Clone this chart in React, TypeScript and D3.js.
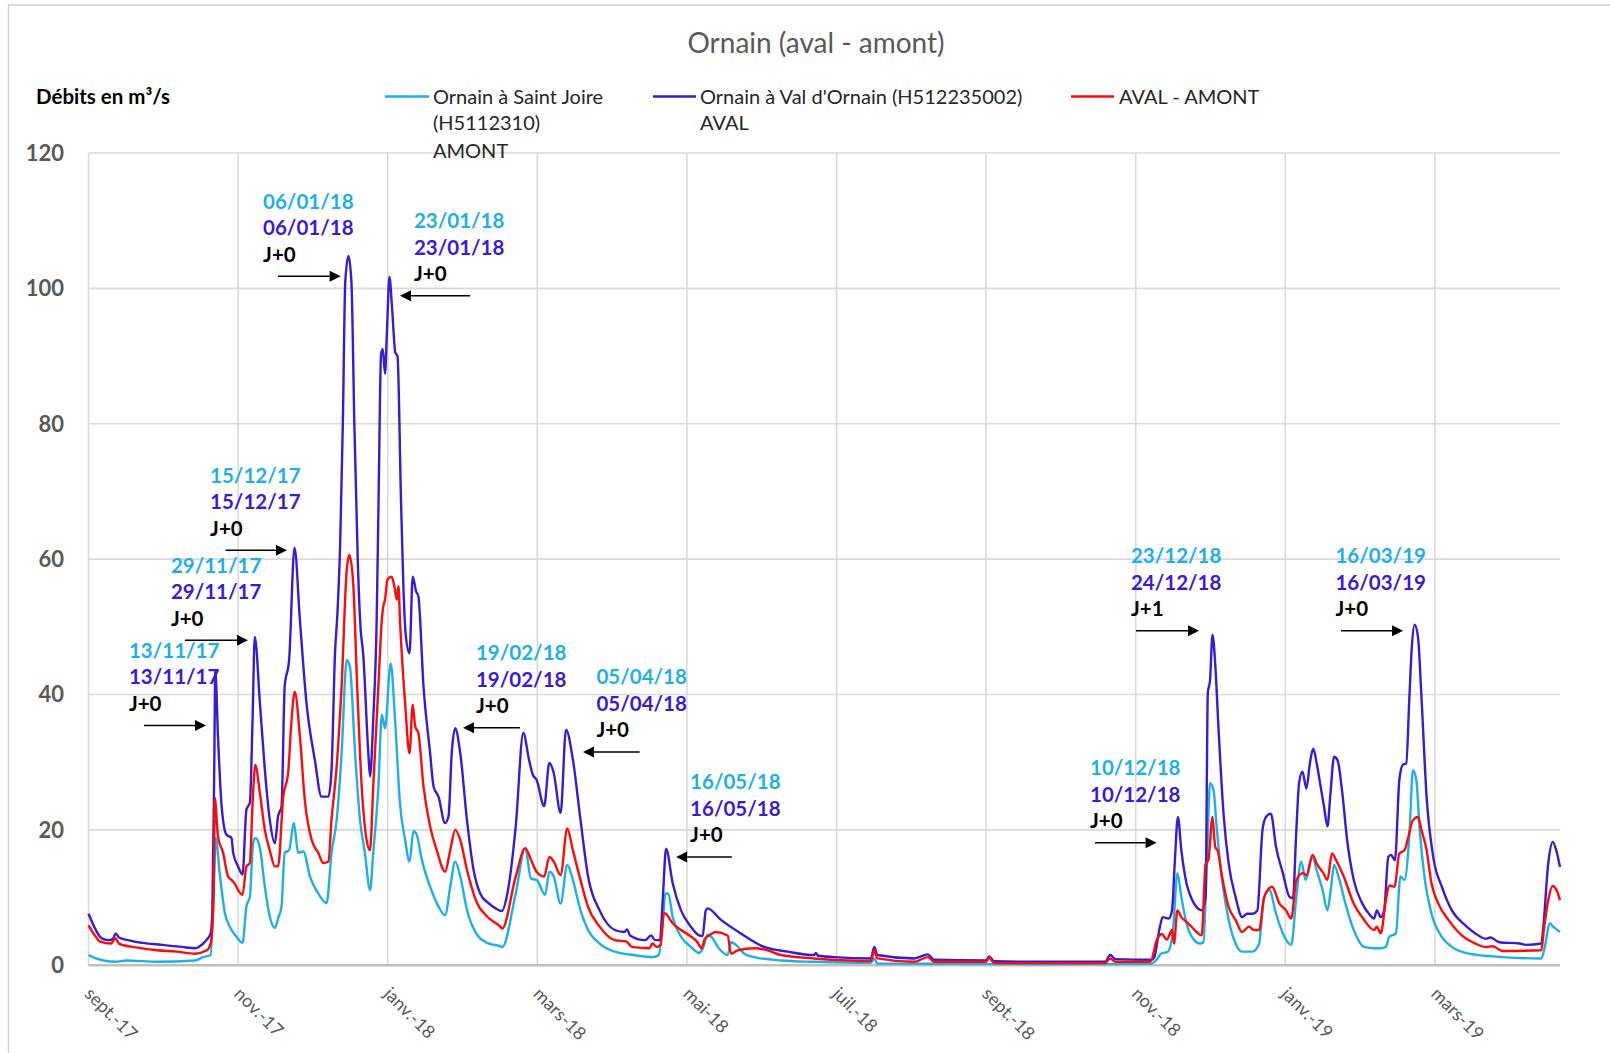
import React from "react";
import * as d3 from "d3";

// Daily flows, sampled at the turning points of each hydrograph.
// Each point: [days since 23/09/2017, discharge in m3/s]
const amont: [number, number][] = [
  [0, 1.5], [3, 1.0], [6.2, 0.7], [10.9, 0.5], [15.6, 0.7], [28, 0.5], [43.5, 0.7], [46.7, 1.2], [49.8, 1.5],
  [51, 10.6], [51.9, 18.8], [53.5, 13.6], [55.6, 7.7], [57.6, 5.7], [60.3, 4.2], [62.8, 3.3], [64.4, 8.7],
  [65.8, 10.1], [67.1, 18], [68.1, 18.8], [69.9, 17.3], [71.9, 11.6], [73.9, 7.2], [76, 5.5], [77.3, 6.9],
  [78.7, 8.7], [80, 16.6], [81.8, 17], [83.7, 21], [85.5, 16.6], [87.6, 16.8], [90.3, 13.1], [93.7, 10.6],
  [97.1, 9.2], [99.1, 16.6], [101.2, 21.5], [103.2, 31.3], [105.3, 45.1], [106.6, 44.1], [108.7, 31.3],
  [110.7, 21.5], [112.7, 16.6], [114.8, 11.1], [116.1, 16.6], [118.2, 26.4], [119.6, 37], [120.9, 35],
  [123.2, 44.6], [125, 36.3], [127, 23.9], [129.1, 18.5], [130.9, 15.3], [132.5, 19.8], [133.8, 19.3],
  [135.9, 15.6], [139.3, 11.6], [142, 9.2], [145.4, 7.4], [147.5, 11.6], [149.5, 15.3], [151.6, 13.1],
  [154.3, 8.2], [158.4, 4.5], [162.5, 3.3], [167.9, 2.8], [168.7, 2.7], [174.2, 10.6], [178.1, 17.3],
  [180.4, 12.8], [182.7, 12.6], [186.2, 10.4], [187.9, 13.8], [189.7, 13.1], [192.5, 9.1], [195.2, 14.8],
  [197.5, 12.6], [200.6, 8.1], [203.7, 5.2], [208.4, 3.2], [214.6, 2.0], [222.4, 1.5], [230.2, 1.2],
  [232.5, 1.5], [234, 5.7], [235.3, 10.6], [236.4, 10.6], [238.2, 7.1], [241.6, 4.2], [245.6, 2.7],
  [249, 1.8], [250.5, 2.5], [252.5, 4.5], [254, 4.2], [257, 2.5], [260.6, 1.5], [262, 3.4], [264, 3.0],
  [267.4, 1.7], [271.4, 1.2], [282.3, 0.7], [295.9, 0.5], [319, 0.35], [320.4, 1.0], [321.7, 0.25],
  [384, 0.15], [433, 0.2], [435.5, 0.8], [437.3, 1.7], [440.1, 2.0], [442.2, 5.2], [444, 13.6],
  [445.6, 10.1], [447.7, 6.2], [450.4, 3.9], [453.2, 3.2], [454.6, 3.4], [456, 15], [457.3, 26.9],
  [458.7, 25.9], [460.1, 20], [462.2, 12.6], [464.9, 6.7], [467.7, 3.2], [470.4, 2.0], [474.6, 2.0],
  [477.3, 3.2], [479.4, 10.1], [481.5, 11.1], [484.2, 7.6], [487, 4.7], [490.4, 3.0], [492.5, 10.1],
  [494.5, 15.3], [496.3, 12.6], [499.1, 16], [500.8, 14], [503.2, 11.1], [505.2, 8.1], [506.5, 11.1],
  [507.9, 14.8], [509.7, 13.1], [512.5, 9.1], [515.9, 5.2], [520.1, 2.7], [524.2, 2.5], [526.9, 2.5],
  [529, 2.7], [530.4, 4.2], [533.1, 4.7], [534.9, 13.1], [536.6, 12.6], [538.7, 20], [540, 28.8],
  [541.4, 27.4], [542.8, 20], [544.9, 12.6], [547.6, 7.6], [551.8, 4.2], [555.9, 2.7], [562.8, 1.7],
  [576.6, 1.2], [592.4, 1.0], [593.8, 2.7], [595.8, 6.2], [597.2, 5.7], [600, 4.9],
];

const aval: [number, number][] = [
  [0, 7.6], [3, 5.2], [4.7, 4.2], [6.5, 3.8], [8.5, 3.7], [10, 3.9], [11, 4.7], [12.4, 4.1], [16, 3.7],
  [22, 3.3], [30, 3.0], [38, 2.7], [43.5, 2.5], [45, 2.7], [48, 3.7], [49.8, 4.7], [50.5, 8], [51.3, 30],
  [51.7, 43.5], [52.8, 33.8], [54.2, 23.9], [56.2, 19.3], [58.3, 18.8], [59, 16.6], [61, 14.6], [62.8, 13.4],
  [64.4, 23], [65.8, 24], [66.9, 36.3], [67.8, 48.5], [69.9, 38.7], [71.9, 28.9], [73.9, 21.5], [76, 18],
  [77.3, 22], [78.7, 23.4], [80, 41.2], [81.8, 45.1], [84, 61.7], [86.2, 51], [88.9, 38.7], [92.3, 30.3],
  [95, 24.9], [97.8, 24.9], [99.1, 28.9], [100.5, 46], [101.5, 52], [102.6, 62], [103.7, 80], [104.7, 101],
  [106, 104.8], [107.2, 101], [108.4, 80], [109.8, 59.7], [110.9, 50], [112, 46], [114.1, 31.3],
  [114.8, 27.9], [116.1, 36.3], [117.5, 51], [118.3, 69.4], [119.3, 90.3], [120, 91], [120.9, 87.4],
  [121.7, 93.7], [122.7, 101.7], [123.8, 97], [125.1, 90.5], [126, 90], [127.4, 69], [128.4, 56],
  [129.3, 49], [130.9, 46.1], [132.2, 57.4], [133.6, 55.2], [134.5, 54.5], [136.6, 41.2], [139.3, 31.3],
  [140.7, 26.4], [142.7, 24.9], [145.4, 21], [146.8, 22], [148.1, 31.3], [149.5, 35], [151.6, 31.3],
  [154.3, 21.5], [157, 14.1], [159.7, 10.6], [163, 9.2], [166, 8.4], [168.5, 8.0], [171, 11], [174.2, 20.5],
  [177.3, 34.3], [179.6, 30.4], [181.2, 28.1], [182.7, 27.4], [185.8, 23.5], [187.9, 29.9], [189.7, 28.4],
  [192.5, 22.5], [194.7, 34.8], [197.5, 30.4], [200.6, 21.5], [203.7, 13.1], [208.4, 8.1], [214.6, 5.2],
  [218.5, 4.9], [219.6, 5.3], [220.8, 4.4], [227, 3.7], [229.4, 4.4], [231, 3.7], [233, 3.7], [234.2, 10],
  [235.5, 17.2], [238.2, 12.1], [241.6, 8.1], [245.6, 5.7], [249, 4.4], [250.4, 4.3], [251.7, 8.1],
  [252.4, 8.4], [257.9, 6.7], [266, 4.7], [275.5, 2.7], [285, 2.0], [295.9, 1.5], [296.6, 1.8],
  [297.5, 1.4], [304, 1.2], [319, 1.0], [320.4, 2.7], [321.7, 1.5], [336.7, 1.0], [342.2, 1.6],
  [344.8, 0.8], [366, 0.7], [367.2, 1.3], [369.3, 0.6], [390, 0.5], [414.5, 0.5], [416.6, 1.5],
  [418.7, 0.9], [433.4, 0.8], [434.6, 1.2], [436.6, 5.2], [438, 7.1], [440.4, 6.9], [441.8, 8.1],
  [442.9, 15], [444.2, 21.9], [445.6, 17], [447.7, 12.1], [449.7, 9.9], [451.8, 8.6], [453.9, 8.1],
  [455.5, 10.1], [456.4, 40.2], [457.3, 42.1], [458.3, 48.8], [459.4, 44.6], [460.8, 34.7], [462.8, 22.4],
  [464.9, 15], [467.7, 10.1], [470.4, 7.1], [472.5, 7.6], [474.6, 7.6], [476.6, 8.1], [478.7, 20],
  [480.1, 21.9], [482.1, 22.4], [484.2, 17.5], [487, 13.6], [489.7, 10.1], [491.1, 9.9], [492.5, 20],
  [493.6, 26.9], [495, 28.6], [496.6, 26.1], [498, 29.8], [499.4, 32], [500.8, 29.8], [502.4, 26.4],
  [503.8, 23.4], [505.2, 20.5], [506.3, 24.9], [507.9, 30.8], [509.3, 30.3], [511.1, 25.9], [513.2, 18.5],
  [515.9, 12.6], [519.4, 9.1], [522.1, 7.6], [524.2, 6.9], [525.3, 8.1], [526.9, 7.1], [528.3, 8.1],
  [530, 16], [531.1, 16.3], [532.7, 15.5], [534.5, 27.4], [535.9, 29.6], [537.3, 29.8], [538.6, 39.7],
  [539.6, 47.1], [540.7, 50.3], [542.1, 48.5], [543.5, 39.7], [545.6, 24.9], [548.3, 16], [551.8, 11.6],
  [555.9, 8.1], [561.4, 5.9], [565.5, 4.7], [569.7, 3.9], [571.7, 4.1], [575.2, 3.4], [583.5, 3.2],
  [586.2, 3.0], [592.4, 3.2], [593.1, 5.2], [595.2, 15], [597, 18.2], [598.6, 16.8], [600, 14.5],
];

const avalMinusAmont: [number, number][] = [
  [0, 5.9], [3, 4.2], [4.7, 3.5], [9.3, 3.2], [10.9, 4], [12.4, 3.2], [20, 2.6], [28, 2.2], [36, 2.0],
  [43.5, 1.7], [48.2, 2.2], [49.8, 3.2], [51, 10], [51.5, 24.7], [52.8, 19], [54.9, 16.6], [56.9, 13.1],
  [58.3, 12.6], [59.6, 12.1], [61, 11.1], [62.8, 10.4], [64.4, 14.6], [65.8, 15.1], [66.9, 23.9], [68, 29.6],
  [69.9, 25.4], [71.9, 20], [73.9, 17], [76, 14.6], [77.3, 14.6], [79.4, 24.9], [81.4, 28.4], [82.8, 36.3],
  [84.1, 40.4], [86.2, 33.8], [88.2, 24.4], [91, 18.5], [93.7, 16.6], [95.7, 15.1], [97.8, 15.3],
  [99.1, 21.5], [101.2, 29.4], [103.2, 41.2], [105.3, 58.4], [106.4, 60.6], [108, 56], [109.3, 43.6],
  [111.4, 26.4], [113.4, 18.5], [114.8, 17], [116.1, 26.4], [118.2, 41.2], [119.6, 51], [120.2, 53],
  [120.9, 54], [121.9, 57], [123.6, 57.4], [124.7, 56], [125.7, 54], [126.4, 56], [127, 51], [129.1, 38.7],
  [130.9, 31.3], [132.2, 38.5], [133.2, 35.3], [134.5, 34.3], [136.6, 26.4], [139.3, 20.5], [142, 17],
  [145.4, 13.8], [147.5, 17], [149.5, 20], [151.6, 18.5], [154.3, 14.1], [158.4, 9.2], [162.5, 7.2],
  [167.9, 5.7], [168.7, 5.4], [174.2, 13.1], [178.1, 17.3], [180.4, 15.6], [182.7, 13.8], [185.8, 13.1],
  [187.9, 16], [189.7, 15.3], [192.5, 13.3], [195.2, 20.2], [197.5, 17], [200.6, 12.6], [203.7, 8.6],
  [208.4, 5.7], [214.6, 3.7], [219.3, 3.5], [221.6, 2.7], [228.6, 2.5], [229.9, 3.2], [231.7, 2.7],
  [233.3, 3.0], [234.6, 7.7], [235.4, 7.6], [238.2, 6.2], [241.6, 5.2], [245, 4.4], [248.3, 3.4], [250, 2.5],
  [251.3, 3.9], [253.1, 4.4], [255.8, 4.9], [260.6, 4.4], [262, 1.7], [264.7, 2.2], [271.4, 2.5],
  [276.9, 2.2], [282.3, 1.5], [295.9, 1.0], [309.5, 0.7], [319, 0.6], [320.4, 2.2], [321.7, 1.0],
  [336.7, 0.5], [342.2, 1.2], [344.8, 0.5], [366, 0.5], [367.2, 1.1], [369.3, 0.3], [414.5, 0.3],
  [416.6, 1.0], [418.7, 0.5], [433, 0.5], [435.5, 3.6], [437.6, 4.6], [439.7, 3.8], [441.8, 5.2],
  [442.6, 3.2], [444, 8.1], [445.6, 7.1], [447.7, 6.4], [449.7, 5.7], [451.8, 4.9], [453.9, 4.4],
  [455.5, 15], [456.6, 15.5], [458.3, 21.9], [459.4, 17.5], [460.5, 16.8], [462.2, 13.1], [464.9, 8.6],
  [467.7, 6.7], [470.4, 4.9], [473.2, 5.7], [475.2, 5.2], [477.3, 5.2], [479.4, 10.1], [482.6, 11.6],
  [485.6, 9.1], [488.3, 8.1], [490.4, 6.9], [492.5, 12.6], [495.2, 13.6], [496.6, 13.3], [499.1, 16.3],
  [500.8, 15], [503.5, 13.6], [505.2, 12.6], [507, 16.5], [509, 15.3], [511.8, 13.1], [515.9, 9.1],
  [520.1, 6.7], [524.2, 5.2], [525.3, 5.7], [526.9, 4.7], [529, 9.6], [530.4, 11.8], [532.5, 11.6],
  [534.5, 16.5], [536.6, 17], [538, 18.7], [540, 21.4], [542.1, 21.9], [543.5, 20], [545.6, 17],
  [547.6, 12.1], [550.4, 9.1], [554.5, 6.7], [560, 4.4], [565.5, 3.2], [569.7, 2.7], [572.5, 2.8],
  [576.6, 2.1], [592.4, 2.2], [593.4, 5.2], [595.2, 9.6], [597, 11.7], [598.6, 11.1], [600, 9.6],
];

const yTicks = [0, 20, 40, 60, 80, 100, 120];
const xTickDays = [0, 61, 122, 183, 244, 305, 366, 427, 488, 549];
const xTickLabels = ["sept.-17", "nov.-17", "janv.-18", "mars-18", "mai-18", "juil.-18", "sept.-18", "nov.-18", "janv.-19", "mars-19"];

// Flood peaks: date at the upstream gauge, date at the downstream gauge, lag
const peakAmontDates = ["13/11/17", "29/11/17", "15/12/17", "06/01/18", "23/01/18", "19/02/18", "05/04/18", "16/05/18", "10/12/18", "23/12/18", "16/03/19"];
const peakAvalDates = ["13/11/17", "29/11/17", "15/12/17", "06/01/18", "23/01/18", "19/02/18", "05/04/18", "16/05/18", "10/12/18", "24/12/18", "16/03/19"];
const peakLags = ["J+0", "J+0", "J+0", "J+0", "J+0", "J+0", "J+0", "J+0", "J+0", "J+1", "J+0"];
// Arrow pointing at each peak, in chart units (days, m3/s)
const arrowTailDays = [22.6, 39.3, 55.9, 77.3, 155.6, 175.9, 224.7, 262.3, 410.4, 427.1, 510.7];
const arrowTipDays = [47.9, 65.0, 80.9, 102.8, 127.0, 152.7, 201.6, 239.6, 435.5, 452.8, 536.0];
const arrowLevels = [35.4, 48.0, 61.3, 101.8, 98.9, 35.1, 31.5, 16.0, 18.1, 49.4, 49.4];
// horizontal offset of the label block from the arrow's left end (px)
const labelShift = [-15, -14, -15.5, -15, 14, 13, 13.5, 14, -5, -5, -5.5];

const COL_AMONT = "#1DAFE6";
const COL_AVAL = "#3A1AD4";
const COL_DIFF = "#FF0A0A";
const FONT = "Lato, 'Open Sans', sans-serif";

const M = { left: 88.5, right: 1560, top: 153, bottom: 965.2 };

export default function App() {
  const start = new Date(Date.UTC(2017, 8, 23));
  const toDate = (d: number) => new Date(start.getTime() + d * 864e5);
  const x = d3.scaleUtc().domain([start, toDate(600)]).range([M.left, M.right]);
  const y = d3.scaleLinear().domain([0, 120]).range([M.bottom, M.top]);
  const line = d3
    .line<[number, number]>()
    .x((p) => x(toDate(p[0])))
    .y((p) => y(p[1]))
    .curve(d3.curveMonotoneX);

  const series = [
    { data: amont, color: COL_AMONT },
    { data: aval, color: COL_AVAL },
    { data: avalMinusAmont, color: COL_DIFF },
  ];

  return (
    <svg
      width={1610}
      height={1053}
      style={{ position: "absolute", left: 0, top: 0, background: "#fff" }}
      fontFamily={FONT}
    >
      <rect x={8.5} y={5} width={1700} height={1200} fill="none" stroke="#D0D0D0" strokeWidth={1.5} />

      {/* grid */}
      {yTicks.filter((t) => t > 0).map((t) => (
        <line key={"h" + t} x1={M.left} x2={M.right} y1={y(t)} y2={y(t)} stroke="#D9D9D9" strokeWidth={1.6} />
      ))}
      {xTickDays.map((d) => (
        <line key={"v" + d} x1={x(toDate(d))} x2={x(toDate(d))} y1={M.top} y2={M.bottom} stroke="#D9D9D9" strokeWidth={1.6} />
      ))}
      <line x1={M.left} x2={M.right} y1={y(0)} y2={y(0)} stroke="#BFBFBF" strokeWidth={2.5} />

      {/* y labels */}
      {yTicks.map((t) => (
        <text key={"yl" + t} x={64} y={y(t)} dy="0.36em" textAnchor="end" fontSize={22} fontWeight={700} fill="#595959">
          {t}
        </text>
      ))}

      {/* x labels */}
      {xTickDays.map((d, i) => (
        <text
          key={"xl" + d}
          transform={`translate(${x(toDate(d)) - 5},${995}) rotate(45)`}
          fontSize={18}
          fill="#595959"
        >
          {xTickLabels[i]}
        </text>
      ))}

      {/* series */}
      {series.map((s, i) => (
        <path key={i} d={line(s.data) || ""} fill="none" stroke={s.color} strokeWidth={2.4} strokeLinejoin="round" />
      ))}

      {/* peak annotations */}
      {peakAmontDates.map((dA, i) => {
        const xt = x(toDate(arrowTailDays[i]));
        const xp = x(toDate(arrowTipDays[i]));
        const ya = y(arrowLevels[i]);
        const dir = xp > xt ? 1 : -1;
        const tx = Math.min(xt, xp) + labelShift[i];
        const head = 11;
        return (
          <g key={"a" + i}>
            <line x1={xt} x2={xp - dir * head} y1={ya} y2={ya} stroke="#000" strokeWidth={1.5} />
            <path d={`M${xp},${ya} L${xp - dir * head},${ya - 5.5} L${xp - dir * head},${ya + 5.5} Z`} fill="#000" />
            <g fontSize={20.5} fontWeight={700}>
              <text x={tx} y={ya - 75} dy="0.36em" fill={COL_AMONT}>{dA}</text>
              <text x={tx} y={ya - 48.5} dy="0.36em" fill={COL_AVAL}>{peakAvalDates[i]}</text>
              <text x={tx} y={ya - 22} dy="0.36em" fill="#000">{peakLags[i]}</text>
            </g>
          </g>
        );
      })}

      {/* title */}
      <text x={816} y={43} dy="0.36em" textAnchor="middle" fontSize={28} fill="#595959">
        Ornain (aval - amont)
      </text>
      <text x={36} y={97} dy="0.36em" fontSize={20.5} fontWeight={700} fill="#000">
        Débits en m³/s
      </text>

      {/* legend */}
      <g fontSize={20} fill="#262626">
        <line x1={385} x2={429} y1={96.5} y2={96.5} stroke={COL_AMONT} strokeWidth={2.5} />
        <text x={433} y={96.5} dy="0.36em">Ornain à Saint Joire</text>
        <text x={433} y={123} dy="0.36em">(H5112310)</text>
        <text x={433} y={150.5} dy="0.36em">AMONT</text>
        <line x1={653} x2={696} y1={96.5} y2={96.5} stroke={COL_AVAL} strokeWidth={2.5} />
        <text x={700} y={96.5} dy="0.36em">Ornain à Val d'Ornain (H512235002)</text>
        <text x={700} y={123} dy="0.36em">AVAL</text>
        <line x1={1071} x2={1114} y1={96.5} y2={96.5} stroke={COL_DIFF} strokeWidth={2.5} />
        <text x={1119} y={96.5} dy="0.36em">AVAL - AMONT</text>
      </g>
    </svg>
  );
}
